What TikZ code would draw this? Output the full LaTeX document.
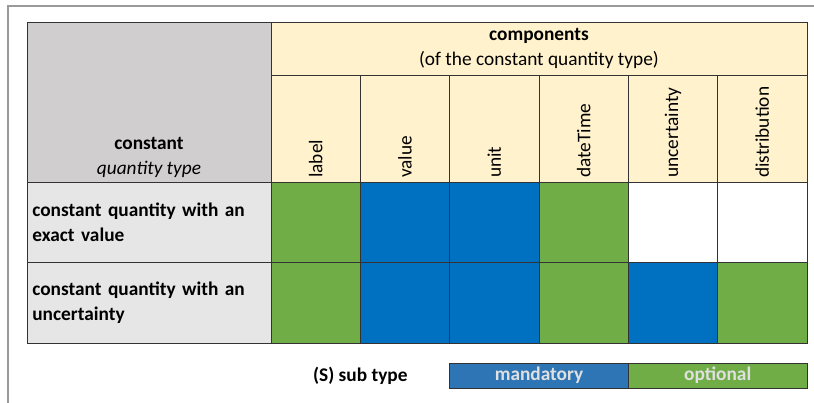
\documentclass[tikz,border=0pt]{standalone}
\usepackage{fontspec}
\setmainfont{Carlito}
\usetikzlibrary{positioning}
\definecolor{hdrgray}{HTML}{D0CECE}
\definecolor{rowgray}{HTML}{E7E6E6}
\definecolor{hdryellow}{HTML}{FFF2CC}
\definecolor{mustblue}{HTML}{0070C0}
\definecolor{optgreen}{HTML}{70AD47}
\definecolor{keyblue}{HTML}{2E75B6}
\definecolor{keytext}{HTML}{E0E0E0}
\definecolor{framegray}{HTML}{9A9A9A}
\newcommand{\tabfont}{\fontsize{14.5pt}{18.5pt}\selectfont}

\begin{document}
\begin{tikzpicture}[
    x=0.75pt, y=-0.75pt,
    node distance=0pt,
    cell/.style={rectangle, draw=black!80, line width=0.6pt, inner sep=0pt, outer sep=0pt, minimum width=67pt, minimum height=60.375pt},
    corner/.style={cell, fill=hdrgray, minimum width=183pt, minimum height=120pt},
    comphead/.style={cell, fill=hdryellow, minimum width=402pt, minimum height=39.75pt, align=center, font=\tabfont},
    colhead/.style={cell, fill=hdryellow, minimum height=80.25pt},
    rowhead/.style={cell, fill=rowgray, minimum width=183pt, text width=175pt, inner sep=4pt, align=left, font=\tabfont\bfseries},
    must/.style={cell, fill=mustblue},
    opt/.style={cell, fill=optgreen},
    blank/.style={cell, fill=white},
    vlabel/.style={rotate=90, anchor=west, inner sep=0pt, font=\tabfont},
    key/.style={rectangle, draw=black!80, line width=0.6pt, inner sep=0pt, outer sep=0pt, minimum width=134pt, minimum height=18.75pt, font=\tabfont\bfseries, text=keytext},
]
\useasboundingbox (0,0) rectangle (814,403);

% outer frame
\draw[framegray, line width=1.5pt] (8,403) -- (8,6) -- (814,6);

% header
\node[corner, anchor=north west] (qtype) at (27,22) {};
\node[above=3pt of qtype.south, inner sep=0pt, align=center, font=\tabfont] (qtypetext) {\textbf{constant}\\\textit{quantity type}};
\node[comphead, anchor=north west] (comp) at (qtype.north east) {\textbf{components}\\(of the constant quantity type)};

% component columns
\node[colhead, anchor=north west] (cLabel) at (comp.south west) {};
\node[colhead, right=of cLabel] (cValue) {};
\node[colhead, right=of cValue] (cUnit) {};
\node[colhead, right=of cUnit] (cDate) {};
\node[colhead, right=of cDate] (cUnc) {};
\node[colhead, right=of cUnc] (cDist) {};

\node[vlabel] at ([yshift=3pt]cLabel.south) {label};
\node[vlabel] at ([yshift=3pt]cValue.south) {value};
\node[vlabel] at ([yshift=3pt]cUnit.south) {unit};
\node[vlabel] at ([yshift=3pt]cDate.south) {dateTime};
\node[vlabel] at ([yshift=3pt]cUnc.south) {uncertainty};
\node[vlabel] at ([yshift=3pt]cDist.south) {distribution};

% sub types
\node[rowhead, below=of qtype] (exact) {constant quantity with an\\exact value};
\node[rowhead, below=of exact] (withunc) {constant quantity with an\\uncertainty};

\node[opt, below=of cLabel] (eLabel) {};
\node[must, right=of eLabel] (eValue) {};
\node[must, right=of eValue] (eUnit) {};
\node[opt, right=of eUnit] (eDate) {};
\node[blank, right=of eDate] (eUnc) {};
\node[blank, right=of eUnc] (eDist) {};

\node[opt, below=of eLabel] (uLabel) {};
\node[must, right=of uLabel] (uValue) {};
\node[must, right=of uValue] (uUnit) {};
\node[opt, right=of uUnit] (uDate) {};
\node[must, right=of uDate] (uUnc) {};
\node[opt, right=of uUnc] (uDist) {};

% legend
\node[key, fill=keyblue, anchor=north west] (mandkey) at ([yshift=-15pt]uUnit.south west) {mandatory};
\node[key, fill=optgreen, right=of mandkey] (optkey) {optional};
\node[font=\tabfont\bfseries] (subtype) at (uLabel.south east |- mandkey) {(S) sub type};

\end{tikzpicture}
\end{document}
